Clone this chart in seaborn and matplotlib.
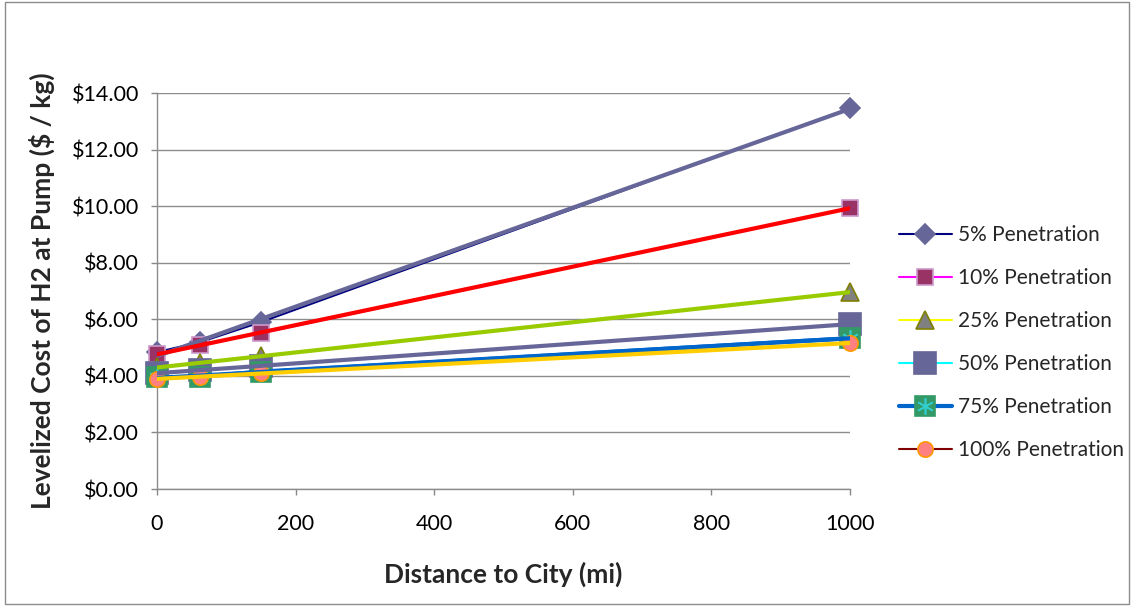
import numpy as np
import pandas as pd
import seaborn as sns
import matplotlib.pyplot as plt
from matplotlib.lines import Line2D
from matplotlib.patches import Rectangle

# distance to city (mi) and levelized cost per penetration level ($/kg)
distance = [0, 62, 150, 1000]
series_names = ["5% Penetration", "10% Penetration", "25% Penetration",
                "50% Penetration", "75% Penetration", "100% Penetration"]
cost_5 = [4.84, 5.19, 5.90, 13.46]
cost_10 = [4.77, 5.09, 5.51, 9.93]
cost_25 = [4.30, 4.45, 4.70, 6.96]
cost_50 = [4.10, 4.20, 4.35, 5.83]
cost_75 = [3.95, 3.97, 4.15, 5.33]
cost_100 = [3.90, 3.95, 4.10, 5.16]
y_ticks = [0, 2, 4, 6, 8, 10, 12, 14]
x_ticks = [0, 200, 400, 600, 800, 1000]

all_costs = [cost_5, cost_10, cost_25, cost_50, cost_75, cost_100]
df = pd.DataFrame({
    "distance": distance * len(series_names),
    "cost": sum(all_costs, []),
    "series": np.repeat(series_names, len(distance)),
})

# excel-ish styling: series line, marker, trendline colour
styles = {
    "5% Penetration": dict(line="#000080", lw=1.5, marker="D", ms=10, face="#666699", edge="#666699", trend="#666699"),
    "10% Penetration": dict(line="#FF00FF", lw=1.5, marker="s", ms=12, face="#993366", edge="#CC99CC", trend="#FF0000"),
    "25% Penetration": dict(line="#FFFF00", lw=1.5, marker="^", ms=13, face="#808080", edge="#808000", trend="#99CC00"),
    "50% Penetration": dict(line="#00FFFF", lw=1.5, marker="s", ms=16, face="#666699", edge="#666699", trend="#666699"),
    "75% Penetration": dict(line="#0066CC", lw=3, marker="s", ms=15, face="#339966", edge="#339966", trend="#0066CC"),
    "100% Penetration": dict(line="#800000", lw=1.5, marker="o", ms=11, face="#FF8080", edge="#FF9900", trend="#FFCC00"),
}

sns.set_theme(style="white")
plt.rcParams["font.family"] = ["Lato", "DejaVu Sans"]

fig = plt.figure(figsize=(11.34, 6.06), dpi=100)
ax = fig.add_axes([157 / 1134, 1 - 489 / 606, 693 / 1134, 396 / 606])

for name in series_names:
    st = styles[name]
    sub = df[df["series"] == name]
    sns.lineplot(data=sub, x="distance", y="cost", ax=ax, color=st["line"], lw=st["lw"],
                 marker=st["marker"], markersize=st["ms"], markerfacecolor=st["face"],
                 markeredgecolor=st["edge"], markeredgewidth=1.2, zorder=3, clip_on=False)
    if name == "75% Penetration":
        ax.plot(sub["distance"], sub["cost"], ls="none", marker=(6, 2, 0), ms=12,
                mec="#33CCCC", mew=1.2, zorder=3, clip_on=False)

# linear trendlines drawn on top
for name in series_names:
    st = styles[name]
    sub = df[df["series"] == name]
    sns.regplot(data=sub, x="distance", y="cost", ax=ax, scatter=False, ci=None,
                line_kws=dict(color=st["trend"], lw=3, zorder=4))

ax.set_xlim(0, 1000)
ax.set_ylim(0, 14)
ax.set_xticks(x_ticks)
ax.set_yticks(y_ticks)
ax.set_yticklabels(["\\$%.2f" % v for v in y_ticks])
ax.tick_params(axis="both", labelsize=15.5, colors="#888888", labelcolor="black",
               length=4, width=1, direction="out", left=True, bottom=True)
ax.tick_params(axis="y", pad=9)
ax.tick_params(axis="x", pad=14)
ax.yaxis.grid(True, color="#8C8C8C", lw=1)
ax.set_axisbelow(True)
sns.despine(ax=ax, top=True, right=True)
for s in ["left", "bottom"]:
    ax.spines[s].set_color("#8C8C8C")
    ax.spines[s].set_linewidth(1)

ax.set_xlabel("Distance to City (mi)", fontsize=19, fontweight="bold", labelpad=20)
ax.set_ylabel("Levelized Cost of H2 at Pump (\\$ / kg)", fontsize=19, fontweight="bold", labelpad=12)

handles = []
for name in series_names:
    st = styles[name]
    h = Line2D([], [], color=st["line"], lw=st["lw"], marker=st["marker"], markersize=st["ms"],
               markerfacecolor=st["face"], markeredgecolor=st["edge"], markeredgewidth=1.2)
    if name == "75% Penetration":
        h = (h, Line2D([], [], ls="none", marker=(6, 2, 0), ms=12, mec="#33CCCC", mew=1.2))
    handles.append(h)
fig.legend(handles, series_names, loc="upper left", bbox_to_anchor=(889 / 1134, 1 - 215 / 606),
           frameon=False, fontsize=15, labelspacing=1.1, handlelength=2.5, handletextpad=0.3,
           borderpad=0)

fig.patches.append(Rectangle((0.004, 0.003), 0.992, 0.994, transform=fig.transFigure,
                             fill=False, edgecolor="#8C8C8C", lw=1))

fig.savefig("out.png", dpi=100)
